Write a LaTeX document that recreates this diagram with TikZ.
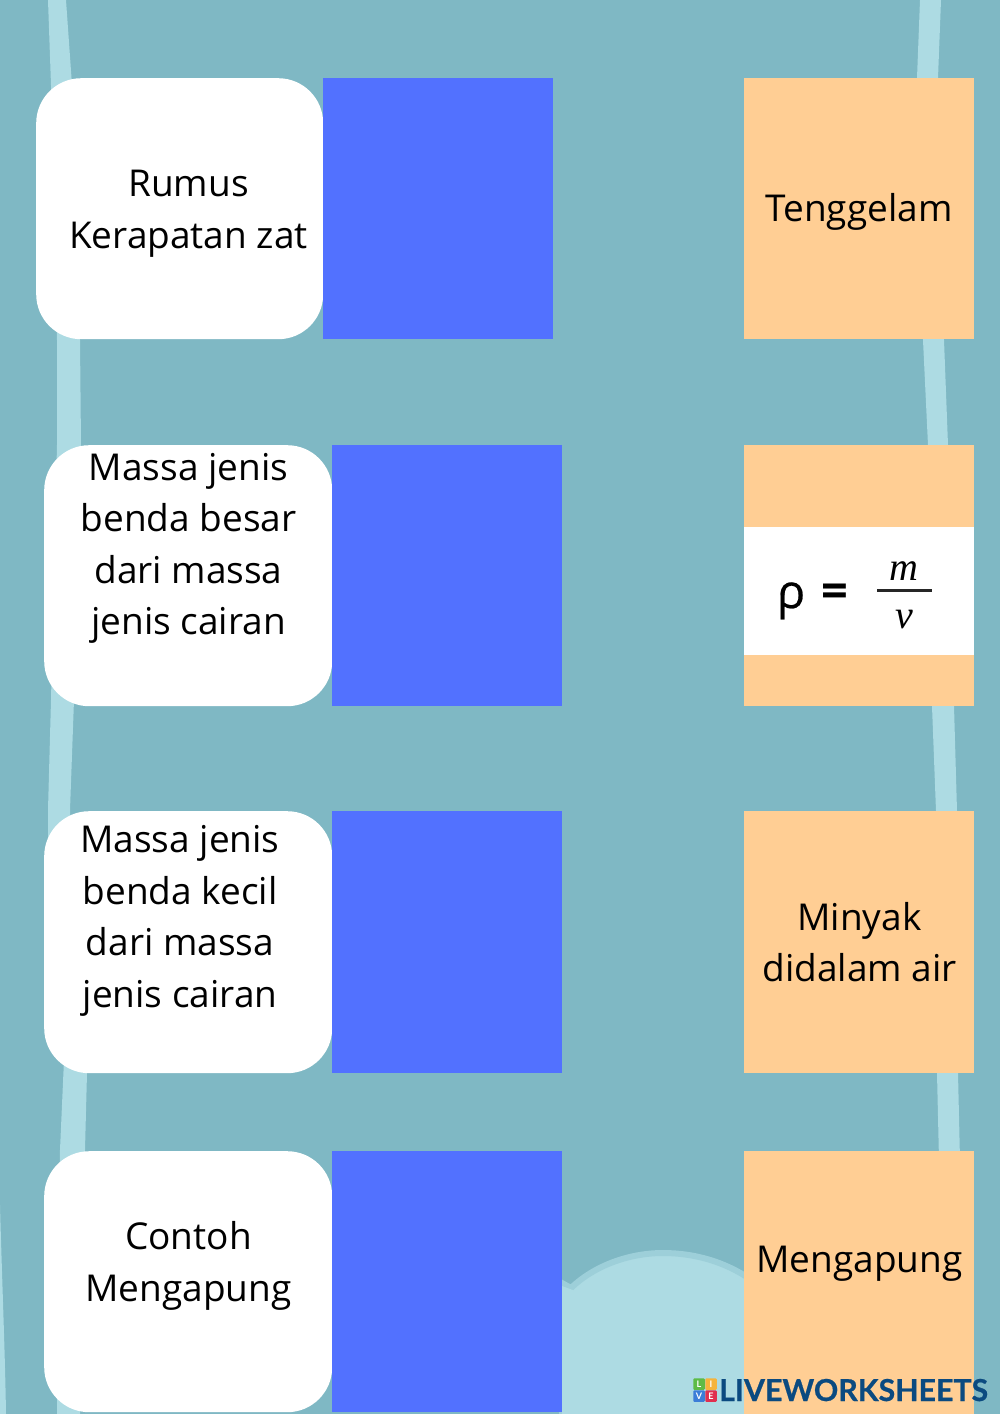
\documentclass[tikz,border=0pt]{standalone}
\usepackage{fontspec}
\setmainfont{Open Sans}
\newfontfamily\logofont[FakeBold=0.6]{Lato Bold}
\newfontfamily\tilefont{Lato Bold}
\newfontfamily\mathfont{Liberation Serif}
\newfontfamily\rhofont[FakeBold=0.5]{Open Sans}
\definecolor{bgc}{HTML}{7FB8C4}
\definecolor{stripec}{HTML}{ADDBE3}
\definecolor{cloudedge}{HTML}{9DCFD9}
\definecolor{bluec}{HTML}{5271FF}
\definecolor{orangec}{HTML}{FFCE94}
\definecolor{logoc}{HTML}{0B4A80}
\definecolor{tileL}{HTML}{5DBB46}
\definecolor{tileI}{HTML}{F5B43C}
\definecolor{tileV}{HTML}{3B7DD8}
\definecolor{tileE}{HTML}{E02F4F}
\tikzset{
  whitebox/.style={fill=white,rounded corners=45pt},
  bluebox/.style={fill=bluec},
  orangebox/.style={fill=orangec},
  stripe/.style={fill=stripec},
  label/.style={font=\fontsize{37}{51.6}\selectfont,align=center,text=black,inner sep=0pt,text depth=0pt},
  tile/.style={inner sep=0pt,minimum size=11.5pt,rounded corners=1pt,font=\tilefont\fontsize{9}{9}\selectfont,text=white},
}
\begin{document}
\begin{tikzpicture}[x=1pt,y=-1pt]
\fill[bgc] (0,0) rectangle (1000,1414);
\useasboundingbox (0,0) rectangle (1000,1414);
% left stripe
\path[stripe] (48,0) -- (51,85) -- (57,340) -- (57,445) -- (51,700) -- (48,810) -- (48,850) -- (64,1060) -- (60,1150) -- (57,1414)
  -- (80,1414) -- (85,1150) -- (87,1073) -- (70,850) -- (70,810) -- (74,700) -- (81,445) -- (80,340) -- (72,85) -- (66,0) -- cycle;
% left edge wedge
\path[stripe] (0,1205) .. controls (2,1280) and (5,1350) .. (6,1414) -- (0,1414) -- cycle;
% right stripe
\path[stripe] (920,0) -- (917,78) -- (923,340) -- (928,445) -- (932,706) -- (936,811) -- (937,1073) -- (939,1160)
  -- (960,1160) -- (958,1073) -- (957,811) -- (954,706) -- (948,445) -- (944,340) -- (938,78) -- (941,0) -- cycle;
% cloud
\path[fill=stripec,draw=cloudedge,line width=6pt] (562,1283) -- (571,1288) .. controls (595,1265) and (630,1253) .. (663,1253)
  .. controls (695,1253) and (725,1262) .. (750,1279) -- (750,1420) -- (562,1420) -- cycle;
\fill[stripec] (562,1286) -- (562,1414) -- (750,1414) -- (750,1300) -- (600,1300) -- cycle;
% white boxes
\node[whitebox,minimum width=287pt,minimum height=261pt,anchor=north west] (w1) at (36,78) {};
\node[whitebox,minimum width=288pt,minimum height=261pt,anchor=north west] (w2) at (44,445) {};
\node[whitebox,minimum width=288pt,minimum height=262pt,anchor=north west] (w3) at (44,811) {};
\node[whitebox,minimum width=288pt,minimum height=261pt,anchor=north west] (w4) at (44,1151) {};
% blue boxes
\node[bluebox,minimum width=230pt,minimum height=261pt,anchor=north west] (b1) at (323,78) {};
\node[bluebox,minimum width=230pt,minimum height=261pt,anchor=north west] (b2) at (332,445) {};
\node[bluebox,minimum width=230pt,minimum height=262pt,anchor=north west] (b3) at (332,811) {};
\node[bluebox,minimum width=230pt,minimum height=261pt,anchor=north west] (b4) at (332,1151) {};
% orange boxes
\node[orangebox,minimum width=230pt,minimum height=261pt,anchor=north west] (o1) at (744,78) {};
\node[orangebox,minimum width=230pt,minimum height=261pt,anchor=north west] (o2) at (744,445) {};
\node[orangebox,minimum width=230pt,minimum height=262pt,anchor=north west] (o3) at (744,811) {};
\node[orangebox,minimum width=230pt,minimum height=263pt,anchor=north west] (o4) at (744,1151) {};
% formula panel
\node[fill=white,minimum width=230pt,minimum height=128pt,anchor=north west] (panel) at (744,527) {};
% texts
\node[label] (t1) at (188.5,209) {Rumus\\Kerapatan zat};
\node[label] (t2) at (188.5,544) {Massa jenis\\benda besar\\dari massa\\jenis cairan};
\node[label] (t3) at (180,916.5) {Massa jenis\\benda kecil\\dari massa\\jenis cairan};
\node[label] (t4) at (188.5,1261.5) {Contoh\\Mengapung};
\node[label] (t5) at (859,207) {Tenggelam};
\node[label] (t6) at (859.5,942) {Minyak\\didalam air};
\node[label] (t7) at (859.5,1259) {Mengapung};
% formula
\node[inner sep=0pt,font=\rhofont\fontsize{47}{47}\selectfont,anchor=base] (rho) at (791,608) {ρ};
\node[inner sep=0pt,font=\bfseries\fontsize{47}{47}\selectfont,anchor=base] (eq) at (834.5,607) {=};
\node[inner sep=0pt,font=\mathfont\itshape\fontsize{40}{40}\selectfont,anchor=base] (num) at (904,580) {m};
\node[inner sep=0pt,font=\mathfont\itshape\fontsize{40}{40}\selectfont,anchor=base] (den) at (904,628) {v};
\coordinate (barL) at (877,590.5);
\coordinate (barR) at (932,590.5);
\draw[line width=2.2pt,black!85] (barL) -- (barR);
% logo
\node[tile,fill=tileL] (tl) at (699,1384) {L};
\node[tile,fill=tileI] (ti) at (711,1384) {I};
\node[tile,fill=tileV] (tv) at (699,1396) {V};
\node[tile,fill=tileE] (te) at (711,1396) {E};
\node[inner sep=0pt,anchor=base west,text=logoc,font=\logofont\fontsize{30.3}{30.3}\selectfont] (logo) at (719,1401) {LIVEWORKSHEETS};
\end{tikzpicture}
\end{document}
